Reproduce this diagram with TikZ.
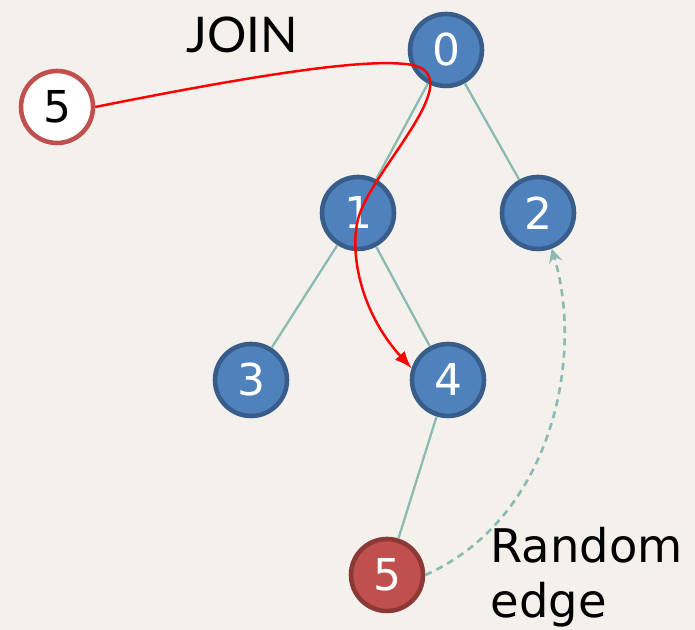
\documentclass[tikz,border=0pt]{standalone}
\usepackage{fontspec}
\setmainfont{DejaVu Sans}
\newfontfamily\joinfont{Lato}
\definecolor{paper}{RGB}{244,241,237}
\definecolor{nodeblue}{RGB}{79,129,189}
\definecolor{nodeline}{RGB}{56,93,138}
\definecolor{nodered}{RGB}{192,80,77}
\definecolor{redline}{RGB}{140,56,54}
\definecolor{treeedge}{RGB}{140,185,178}
\tikzset{
  vertex/.style={circle, draw=nodeline, fill=nodeblue, line width=1.3pt,
    minimum size=0.72cm, inner sep=0pt, text=white, font=\fontsize{12.5}{15}\selectfont},
  newvertex/.style={vertex, draw=redline, fill=nodered},
  joinvertex/.style={vertex, draw=nodered, fill=white, text=black},
  treeline/.style={draw=treeedge, line width=0.65pt}
}
\begin{document}
\begin{tikzpicture}
\fill[paper] (0,0) rectangle (6.95,6.30);
\useasboundingbox (0,0) rectangle (6.95,6.30);
% tree
  \node[vertex] (n0) at (4.46,5.80) {0};
  \node[vertex] (n1) at (3.58,4.17) {1};
  \node[vertex] (n2) at (5.38,4.17) {2};
  \node[vertex] (n3) at (2.51,2.50) {3};
  \node[vertex] (n4) at (4.48,2.50) {4};
  \node[newvertex] (n5) at (3.87,0.55) {5};
% joining node
  \node[joinvertex] (j5) at (0.57,5.23) {5};
  \node[anchor=base, inner sep=0pt, font=\joinfont\fontsize{14}{16}\selectfont] (join) at (2.42,5.77) {JOIN};
% label
  \node[anchor=north west, inner sep=0pt, align=left, font=\fontsize{13.2}{15.6}\selectfont] (rnd) at (4.90,1.03) {Random\\edge};
%%%%%%%%%%%%%%%%
\draw[treeline] (n0) -- (n1);
\draw[treeline] (n0) -- (n2);
\draw[treeline] (n1) -- (n3);
\draw[treeline] (n1) -- (n4);
\draw[treeline] (n4) -- (n5);
\draw[red, line width=0.7pt, -latex] (j5.east) .. controls (2.8,5.6) and (3.65,5.70) .. (4.05,5.66)
  .. controls (4.75,5.6) and (3.8,4.7) .. (3.60,4.17)
  .. controls (3.48,3.85) and (3.58,3.2) .. (n4.162);
\draw[treeline, line width=0.75pt, dash pattern=on 2pt off 1.5pt, -stealth] (n5.east) .. controls (5.5,1.1) and (5.85,2.7) .. (n2.-69);
\end{tikzpicture}
\end{document}
